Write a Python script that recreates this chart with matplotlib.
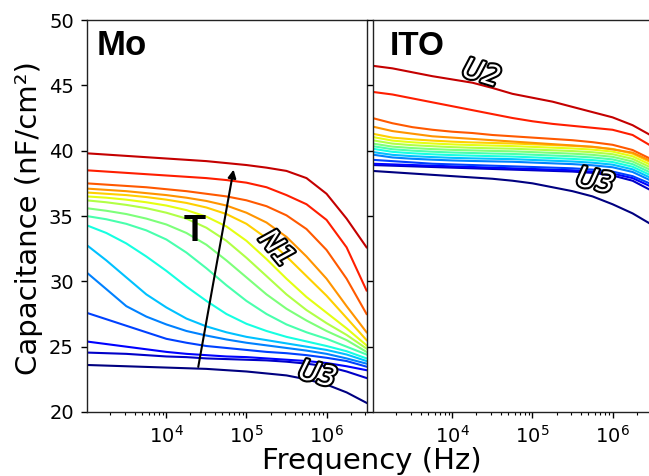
import numpy as np
import matplotlib
matplotlib.use("Agg")
import matplotlib.pyplot as plt
import matplotlib.patheffects as pe
from matplotlib.ticker import LogLocator, NullFormatter

# frequency grid (Hz), read every quarter decade
freq_hz = [1.0e3, 1.78e3, 3.16e3, 5.62e3, 1.0e4, 1.78e4, 3.16e4, 5.62e4,
           1.0e5, 1.78e5, 3.16e5, 5.62e5, 1.0e6, 1.78e6, 3.16e6]

# Mo: capacitance (nF/cm2), one row per temperature, lowest first
mo_cap = [
    [23.6, 23.55, 23.5, 23.45, 23.4, 23.35, 23.3, 23.2, 23.1, 22.95, 22.8, 22.5, 22.1, 21.5, 20.7],
    [24.55, 24.5, 24.45, 24.35, 24.25, 24.2, 24.1, 24.05, 24.0, 23.95, 23.85, 23.7, 23.5, 23.1, 22.6],
    [25.4, 25.2, 25.0, 24.8, 24.6, 24.45, 24.35, 24.25, 24.2, 24.1, 24.0, 23.9, 23.75, 23.5, 23.2],
    [27.6, 27.1, 26.6, 26.1, 25.6, 25.3, 25.05, 24.9, 24.75, 24.6, 24.5, 24.35, 24.15, 23.9, 23.47],
    [30.7, 29.4, 28.1, 27.3, 26.7, 26.2, 25.85, 25.55, 25.3, 25.1, 24.9, 24.7, 24.45, 24.1, 23.7],
    [32.8, 31.6, 30.3, 29.0, 28.0, 27.15, 26.55, 26.1, 25.75, 25.5, 25.25, 25.0, 24.75, 24.4, 23.9],
    [34.3, 33.7, 32.9, 31.9, 30.8, 29.6, 28.5, 27.5, 26.75, 26.2, 25.75, 25.4, 25.05, 24.65, 24.1],
    [35.0, 34.75, 34.4, 33.9, 33.2, 32.2, 31.0, 29.7, 28.5, 27.5, 26.7, 26.1, 25.6, 25.0, 24.4],
    [35.6, 35.4, 35.15, 34.8, 34.35, 33.7, 32.8, 31.6, 30.3, 29.0, 27.9, 27.0, 26.2, 25.5, 24.6],
    [36.2, 36.05, 35.85, 35.6, 35.25, 34.8, 34.1, 33.1, 31.8, 30.4, 29.0, 27.8, 26.8, 25.9, 24.85],
    [36.5, 36.4, 36.25, 36.05, 35.8, 35.45, 34.95, 34.2, 33.1, 31.7, 30.2, 28.8, 27.6, 26.4, 25.1],
    [36.8, 36.7, 36.6, 36.45, 36.25, 36.0, 35.65, 35.15, 34.4, 33.3, 31.9, 30.4, 28.9, 27.2, 25.5],
    [37.1, 37.0, 36.9, 36.75, 36.6, 36.4, 36.15, 35.8, 35.25, 34.5, 33.4, 31.9, 30.2, 28.1, 26.1],
    [37.5, 37.4, 37.3, 37.2, 37.05, 36.9, 36.7, 36.5, 36.2, 35.75, 35.05, 34.0, 32.4, 30.2, 27.5],
    [38.5, 38.4, 38.3, 38.2, 38.1, 38.0, 37.9, 37.75, 37.55, 37.2, 36.6, 35.9, 34.7, 32.6, 29.3],
    [39.8, 39.7, 39.6, 39.5, 39.4, 39.3, 39.2, 39.05, 38.9, 38.7, 38.45, 37.9, 36.7, 34.8, 32.6],
]

# ITO: same temperatures
ito_cap = [
    [38.45, 38.35, 38.25, 38.15, 38.05, 37.95, 37.85, 37.7, 37.5, 37.2, 36.9, 36.5, 35.9, 35.2, 34.3],
    [38.9, 38.85, 38.8, 38.75, 38.7, 38.65, 38.6, 38.55, 38.5, 38.45, 38.4, 38.3, 38.1, 37.7, 36.9],
    [39.0, 38.95, 38.9, 38.85, 38.8, 38.75, 38.7, 38.65, 38.6, 38.55, 38.5, 38.4, 38.25, 37.9, 37.2],
    [39.3, 39.2, 39.1, 39.0, 38.95, 38.9, 38.85, 38.8, 38.75, 38.7, 38.65, 38.55, 38.4, 38.05, 37.4],
    [39.7, 39.48, 39.38, 39.31, 39.25, 39.21, 39.18, 39.15, 39.09, 39.03, 38.97, 38.88, 38.73, 38.37, 37.65],
    [39.9, 39.68, 39.58, 39.51, 39.45, 39.41, 39.38, 39.35, 39.29, 39.23, 39.17, 39.08, 38.93, 38.57, 37.85],
    [40.15, 39.91, 39.8, 39.72, 39.66, 39.62, 39.58, 39.55, 39.49, 39.43, 39.37, 39.28, 39.13, 38.77, 38.05],
    [40.35, 40.11, 40.0, 39.92, 39.86, 39.82, 39.78, 39.75, 39.69, 39.63, 39.57, 39.48, 39.33, 38.97, 38.25],
    [40.55, 40.31, 40.2, 40.12, 40.06, 40.02, 39.98, 39.95, 39.89, 39.83, 39.77, 39.68, 39.53, 39.17, 38.45],
    [40.8, 40.54, 40.42, 40.34, 40.27, 40.22, 40.18, 40.15, 40.09, 40.03, 39.97, 39.88, 39.73, 39.37, 38.65],
    [41.05, 40.77, 40.64, 40.55, 40.48, 40.43, 40.39, 40.35, 40.29, 40.23, 40.17, 40.08, 39.93, 39.57, 38.85],
    [41.3, 41.0, 40.87, 40.77, 40.69, 40.63, 40.59, 40.55, 40.49, 40.43, 40.37, 40.28, 40.13, 39.77, 39.05],
    [41.85, 41.5, 41.3, 41.1, 41.0, 40.9, 40.8, 40.7, 40.6, 40.5, 40.4, 40.3, 40.1, 39.85, 39.15],
    [42.5, 42.1, 41.8, 41.6, 41.45, 41.35, 41.2, 41.1, 41.0, 40.9, 40.8, 40.65, 40.45, 40.05, 39.3],
    [44.5, 44.3, 44.0, 43.7, 43.4, 43.1, 42.8, 42.5, 42.25, 42.05, 41.9, 41.75, 41.6, 41.2, 40.3],
    [46.5, 46.3, 46.0, 45.7, 45.45, 45.2, 44.8, 44.35, 44.05, 43.75, 43.35, 42.95, 42.55, 41.95, 41.1],
]

y_ticks = [20, 25, 30, 35, 40, 45, 50]


def style_axis(ax):
    ax.set_xscale("log")
    ax.set_xlim(1.02e3, 3.2e6)
    ax.set_ylim(20, 50)
    ax.set_yticks(y_ticks)
    ax.xaxis.set_major_locator(LogLocator(base=10, numticks=10))
    ax.xaxis.set_minor_locator(LogLocator(base=10, subs=np.arange(2, 10), numticks=20))
    ax.xaxis.set_minor_formatter(NullFormatter())
    ax.tick_params(which="major", direction="out", length=4.5, width=1,
                   labelsize=14, pad=5)
    ax.tick_params(which="minor", direction="out", length=2.5, width=0.8)
    for s in ax.spines.values():
        s.set_linewidth(1.0)
        s.set_color("#222222")


fig = plt.figure(figsize=(6.49, 4.76), dpi=100)
ax_mo = fig.add_axes([87 / 649, 64 / 476, 280 / 649, 392 / 476])
ax_ito = fig.add_axes([373 / 649, 64 / 476, 280 / 649, 392 / 476])

# jet sampled in 1/16 steps, top colour is a dark red rather than maroon
colors = plt.cm.jet(np.arange(len(mo_cap)) / 16)

for row, c in zip(mo_cap, colors):
    ax_mo.plot(freq_hz, row, color=c, lw=1.5)
for row, c in zip(ito_cap, colors):
    ax_ito.plot(freq_hz, row, color=c, lw=1.5)

style_axis(ax_mo)
style_axis(ax_ito)
ax_ito.tick_params(axis="y", labelleft=False)

# panel names
bold = dict(family="Liberation Sans", weight="bold", color="black")
ax_mo.text(0.035, 0.91, "Mo", transform=ax_mo.transAxes, fontsize=25,
           va="baseline", **bold)
ax_ito.text(0.06, 0.91, "ITO", transform=ax_ito.transAxes, fontsize=24,
            va="baseline", **bold)
ax_mo.text(2.24e4, 33.8, "T", fontsize=26, ha="center", va="center", **bold)

# temperature arrow
ax_mo.annotate("", xy=(6.9e4, 38.55), xytext=(2.5e4, 23.45),
               arrowprops=dict(arrowstyle="-|>", color="black", lw=1.5,
                               mutation_scale=12, shrinkA=0, shrinkB=0))

# outlined phase labels
outline = [pe.withStroke(linewidth=3, foreground="black")]
lab = dict(color="white", fontsize=20, style="italic", ha="center",
           va="center", path_effects=outline)
ax_mo.text(2.37e5, 32.5, "N1", rotation=-50, **lab)
ax_mo.text(7.7e5, 22.85, "U3", rotation=-15, **lab)
ax_ito.text(2.3e4, 45.9, "U2", rotation=-17, **lab)
ax_ito.text(6.1e5, 37.65, "U3", rotation=-13, **lab)

fig.text(29 / 649, 1 - 218 / 476, "Capacitance (nF/cm²)", rotation=90,
         ha="center", va="center", fontsize=21)
fig.text(372 / 649, 7 / 476, "Frequency (Hz)", ha="center", va="baseline",
         fontsize=21)

fig.savefig("out.png", dpi=100)
